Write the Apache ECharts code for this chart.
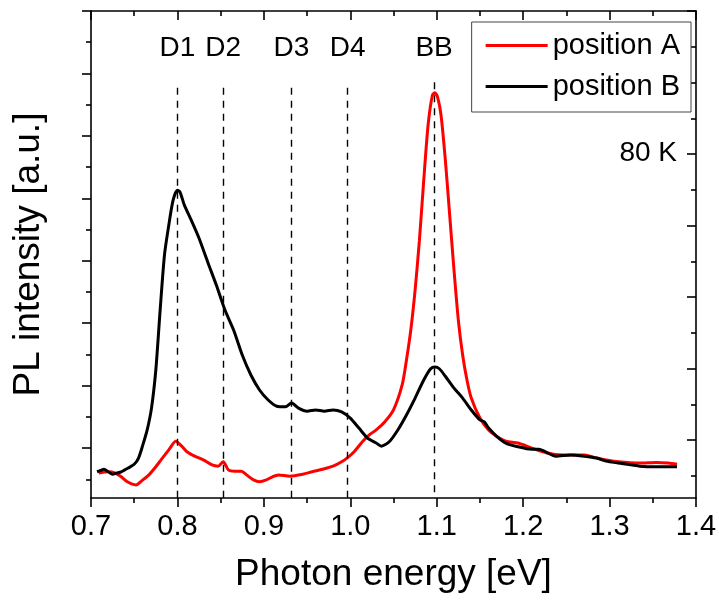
<!DOCTYPE html>
<html>
<head>
<meta charset="utf-8">
<script src="https://cdn.jsdelivr.net/npm/echarts@6/dist/echarts.min.js"></script>
<style>
html,body{margin:0;padding:0;background:#fff;}
#chart{width:719px;height:604px;}
</style>
</head>
<body>
<div id="chart"></div>
<script>
// ---- data (photon energy in eV, PL intensity in arbitrary units) ----
const energyA = [0.709,0.72,0.728,0.735,0.742,0.752,0.76,0.767,0.775,0.781,0.79,0.798,0.805,0.811,0.82,0.83,0.84,0.847,0.853,0.859,0.866,0.874,0.88,0.888,0.895,0.903,0.91,0.917,0.93,0.945,0.956,0.968,0.98,0.99,0.998,1.005,1.014,1.022,1.03,1.04,1.05,1.06,1.065,1.07,1.075,1.08,1.085,1.09,1.095,1.098,1.101,1.105,1.11,1.115,1.12,1.125,1.13,1.135,1.14,1.15,1.16,1.17,1.18,1.194,1.21,1.223,1.235,1.247,1.26,1.271,1.285,1.296,1.31,1.335,1.354,1.368,1.378];
const intensityA = [-0.40,-0.38,-0.40,-0.46,-0.54,-0.59,-0.51,-0.43,-0.30,-0.19,-0.03,0.11,0.03,-0.06,-0.13,-0.19,-0.27,-0.29,-0.22,-0.35,-0.37,-0.37,-0.43,-0.51,-0.54,-0.51,-0.46,-0.43,-0.45,-0.42,-0.38,-0.34,-0.29,-0.22,-0.14,-0.05,0.10,0.21,0.29,0.42,0.61,1.01,1.41,1.89,2.53,3.33,4.29,5.17,5.65,5.69,5.62,5.33,4.61,3.73,2.85,2.05,1.49,1.09,0.80,0.48,0.29,0.18,0.11,0.08,0.00,-0.06,-0.10,-0.11,-0.11,-0.11,-0.16,-0.19,-0.22,-0.24,-0.23,-0.24,-0.26];

const energyB = [0.707,0.711,0.715,0.72,0.725,0.73,0.735,0.743,0.75,0.755,0.76,0.765,0.77,0.775,0.78,0.785,0.79,0.795,0.8,0.803,0.808,0.815,0.825,0.835,0.845,0.855,0.865,0.875,0.885,0.895,0.905,0.915,0.925,0.932,0.94,0.95,0.96,0.97,0.98,0.99,1.0,1.01,1.02,1.03,1.036,1.045,1.055,1.065,1.075,1.085,1.093,1.098,1.103,1.11,1.12,1.13,1.14,1.15,1.155,1.16,1.17,1.18,1.194,1.21,1.218,1.238,1.255,1.271,1.285,1.296,1.31,1.335,1.355,1.378];
const intensityB = [-0.38,-0.36,-0.34,-0.38,-0.42,-0.40,-0.38,-0.32,-0.26,-0.16,0.05,0.29,0.64,1.25,2.21,3.09,3.57,3.97,4.13,4.10,3.89,3.68,3.36,2.98,2.61,2.21,1.89,1.49,1.17,0.93,0.77,0.67,0.66,0.72,0.64,0.59,0.61,0.59,0.61,0.58,0.48,0.32,0.16,0.08,0.03,0.10,0.29,0.53,0.80,1.09,1.27,1.30,1.27,1.15,0.96,0.80,0.61,0.45,0.42,0.32,0.18,0.08,0.02,-0.02,-0.02,-0.13,-0.11,-0.13,-0.16,-0.21,-0.24,-0.29,-0.30,-0.30];

const seriesNames = ['position A', 'position B'];
const markerNames = ['D1', 'D2', 'D3', 'D4', 'BB'];
const markerEnergy = [0.8, 0.853, 0.932, 0.997, 1.097];
const markerTop = [5.77, 5.77, 5.77, 5.77, 5.86];
const markerLabelLevel = 6.41;
const xTickValues = [0.7, 0.8, 0.9, 1.0, 1.1, 1.2, 1.3, 1.4];
const leftMajor = [0, 1, 2, 3, 4, 5, 6, 7];
const leftMinor = [-0.5, 0.5, 1.5, 2.5, 3.5, 4.5, 5.5, 6.5];
const rightMajor = [0, 1, 2, 3, 4, 5, 6];
const rightMinor = [-0.5, 0.5, 1.5, 2.5, 3.5, 4.5, 5.5];
const tempLabel = '80 K';

// ---- build ----
const FONT = '"Liberation Sans", Arial, sans-serif';
const pairs = (xs, ys) => xs.map((x, i) => [x, ys[i]]);
const LEFT_MIN = -0.8, LEFT_MAX = 7;
const RIGHT_MIN = -0.811, RIGHT_MAX = 6;

const axisLineStyle = {color: '#000', width: 1.6};
const tickStyle = {color: '#000', width: 1.6};

const chart = echarts.init(document.getElementById('chart'), null, {renderer: 'canvas'});

const option = {
  backgroundColor: '#fff',
  animation: false,
  grid: {left: 91, right: 23, top: 11, bottom: 106, containLabel: false, outerBoundsMode: 'none'},
  legend: {
    orient: 'vertical',
    right: 28, top: 22,
    padding: [9, 11, 11, 14],
    icon: 'rect',
    itemWidth: 62, itemHeight: 3, itemGap: 12,
    backgroundColor: '#fff',
    borderColor: '#444', borderWidth: 1,
    textStyle: {fontFamily: FONT, fontSize: 29, color: '#000', padding: [0, 0, 0, 0]},
    data: seriesNames,
    z: 10
  },
  xAxis: [
    {
      type: 'value', position: 'bottom', min: 0.7, max: 1.4, interval: 0.1,
      axisLine: {show: true, onZero: false, lineStyle: axisLineStyle},
      axisTick: {show: true, inside: false, length: 9, lineStyle: tickStyle},
      minorTick: {show: true, splitNumber: 2, length: 5, lineStyle: tickStyle},
      splitLine: {show: false},
      axisLabel: {show: true, color: '#000', fontFamily: FONT, fontSize: 29, margin: 14,
        customValues: xTickValues,
        formatter: v => v.toFixed(1)},
      name: 'Photon energy [eV]', nameLocation: 'middle', nameGap: 58,
      nameTextStyle: {fontFamily: FONT, fontSize: 37, color: '#000'}
    },
    {
      type: 'value', position: 'top', min: 0.7, max: 1.4, interval: 0.1,
      axisLine: {show: true, onZero: false, lineStyle: axisLineStyle},
      axisTick: {show: true, inside: true, length: 9, lineStyle: tickStyle},
      minorTick: {show: true, splitNumber: 2, length: 5, lineStyle: tickStyle},
      splitLine: {show: false},
      axisLabel: {show: false}
    }
  ],
  yAxis: [
    {
      type: 'value', position: 'left', min: LEFT_MIN, max: LEFT_MAX, offset: 0,
      axisLine: {show: true, onZero: false, lineStyle: axisLineStyle},
      axisTick: {show: true, inside: false, length: 9, lineStyle: tickStyle, customValues: leftMajor},
      axisLabel: {show: false},
      splitLine: {show: false},
      name: 'PL intensity [a.u.]', nameLocation: 'middle', nameGap: 44,
      nameTextStyle: {fontFamily: FONT, fontSize: 37, color: '#000'}
    },
    {
      type: 'value', position: 'left', min: LEFT_MIN, max: LEFT_MAX, offset: 0,
      axisLine: {show: false, onZero: false},
      axisTick: {show: true, inside: false, length: 5, lineStyle: tickStyle, customValues: leftMinor},
      axisLabel: {show: false},
      splitLine: {show: false}
    },
    {
      type: 'value', position: 'right', min: RIGHT_MIN, max: RIGHT_MAX, offset: 0,
      axisLine: {show: true, onZero: false, lineStyle: axisLineStyle},
      axisTick: {show: true, inside: true, length: 9, lineStyle: tickStyle, customValues: rightMajor},
      axisLabel: {show: false},
      splitLine: {show: false}
    },
    {
      type: 'value', position: 'right', min: RIGHT_MIN, max: RIGHT_MAX, offset: 0,
      axisLine: {show: false, onZero: false},
      axisTick: {show: true, inside: true, length: 5, lineStyle: tickStyle, customValues: rightMinor},
      axisLabel: {show: false},
      splitLine: {show: false}
    }
  ],
  series: [
    {
      name: seriesNames[0], type: 'line', xAxisIndex: 0, yAxisIndex: 0,
      data: pairs(energyA, intensityA),
      symbol: 'none', smooth: 0.25,
      lineStyle: {color: '#ff0000', width: 3},
      itemStyle: {color: '#ff0000'},
      z: 3
    },
    {
      name: seriesNames[1], type: 'line', xAxisIndex: 0, yAxisIndex: 0,
      data: pairs(energyB, intensityB),
      symbol: 'none', smooth: 0.25,
      lineStyle: {color: '#000', width: 3},
      itemStyle: {color: '#000'},
      z: 4,
      markLine: {
        silent: true, symbol: ['none', 'none'], animation: false,
        lineStyle: {color: '#000', width: 1.4, type: [7, 6], opacity: 1},
        label: {show: false},
        data: markerEnergy.map((e, i) => [{coord: [e, markerTop[i]]}, {coord: [e, LEFT_MIN]}])
      }
    },
    {
      name: 'markers', type: 'scatter', xAxisIndex: 0, yAxisIndex: 0,
      symbolSize: 0, silent: true,
      itemStyle: {opacity: 1, color: '#000'},
      data: markerEnergy.map((e, i) => ({value: [e, markerLabelLevel], name: markerNames[i]})),
      label: {show: true, position: 'inside', formatter: p => p.name, opacity: 1,
        fontFamily: FONT, fontSize: 28, color: '#000', textBorderWidth: 0},
      z: 5
    }
  ],
  graphic: [
    {type: 'text', right: 42, top: 139,
      style: {text: tempLabel, font: '28px "Liberation Sans", Arial, sans-serif', fill: '#000'}}
  ]
};
chart.setOption(option);
</script>
</body>
</html>
